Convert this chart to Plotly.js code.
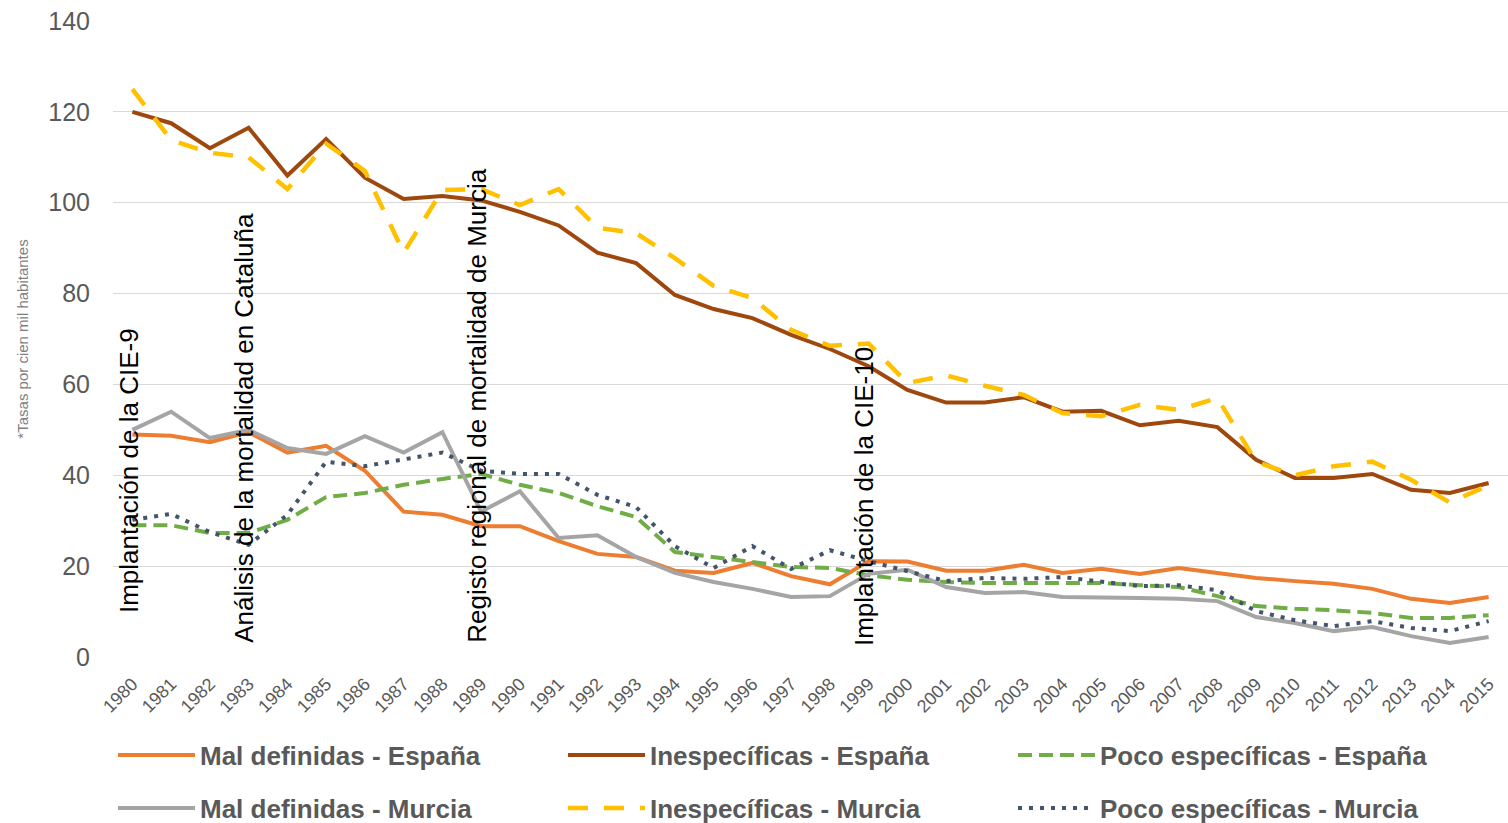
<!DOCTYPE html>
<html>
<head>
<meta charset="utf-8">
<script src="https://cdn.plot.ly/plotly-3.0.1.min.js"></script>
<style>html,body{margin:0;padding:0;background:#fff;}#chart{width:1508px;height:823px;}</style>
</head>
<body>
<div id="chart"></div>
<script>
const years = ["1980","1981","1982","1983","1984","1985","1986","1987","1988","1989","1990","1991","1992","1993","1994","1995","1996","1997","1998","1999","2000","2001","2002","2003","2004","2005","2006","2007","2008","2009","2010","2011","2012","2013","2014","2015"];

const malDefinidasEspana = [49,48.7,47.3,49.5,45,46.5,41,32,31.3,28.8,28.8,25.5,22.7,22,19,18.5,20.7,17.8,16,21.1,21,19,19,20.3,18.5,19.4,18.3,19.6,18.5,17.4,16.7,16.1,15,12.8,11.9,13.2];
const inespecificasEspana = [120,117.5,112,116.5,106,114,105.5,100.8,101.5,100.5,98,95,89,86.7,79.7,76.6,74.6,70.9,67.8,64,58.8,56,56,57.2,54,54.2,51,52,50.6,43.4,39.4,39.4,40.3,36.8,36.1,38.3];
const pocoEspecificasEspana = [29,29,27.3,27.3,30.2,35.2,36.1,37.9,39.2,40.3,37.9,36.1,33.2,30.8,23.1,22,21.1,19.8,19.6,18,17,16.5,16.3,16.3,16.3,16.3,15.8,15.4,13.4,11.2,10.6,10.3,9.7,8.6,8.6,9.2];
const malDefinidasMurcia = [50,54,48.2,50,46,44.7,48.6,45,49.5,32,36.5,26.2,26.8,22,18.5,16.5,15,13.2,13.4,18.3,19.2,15.4,14.1,14.3,13.2,13.2,13,12.8,12.3,8.8,7.5,5.7,6.6,4.6,3.1,4.4];
const inespecificasMurcia = [125,113.8,111,110,103,113,107,89,102.8,103,99.5,103,94.5,93.3,87.8,81.7,79,72,68.5,69,60.3,62,59.7,57.7,53.7,53,55.5,54.4,57,43,40,42,43,39,34,37.8];
const pocoEspecificasMurcia = [30.2,31.5,27.5,24.7,31.3,43,42,43.4,45,41,40.3,40.3,35.7,33,24.4,19.6,24.4,19.4,23.5,21.1,19,16.7,17.4,17.2,17.6,16.5,15.6,15.8,14.7,10.1,8.1,6.8,7.9,6.4,5.7,7.9];

const seriesNames = ["Mal definidas - España","Inespecíficas - España","Poco específicas - España","Mal definidas - Murcia","Inespecíficas - Murcia","Poco específicas - Murcia"];

const eventLabels = ["Implantación de la CIE-9","Análisis de la mortalidad en Cataluña","Registo regional de mortalidad de Murcia","Implantación de la CIE-10"];
const eventYears = ["1980","1983","1989","1999"];
const eventBaseY = [9.2, 2.6, 2.6, 2.0];

const yTicks = [0,20,40,60,80,100,120,140];

const styles = [
  {color:"#ED7D31", width:4, dash:"solid", legend:"legend"},
  {color:"#9E480E", width:4, dash:"solid", legend:"legend"},
  {color:"#70AD47", width:4, dash:"14px,7px", legend:"legend"},
  {color:"#A5A5A5", width:4, dash:"solid", legend:"legend2"},
  {color:"#FFC000", width:4.5, dash:"20px,16px", legend:"legend2"},
  {color:"#44546A", width:4, dash:"4px,7px", legend:"legend2"}
];
const values = [malDefinidasEspana, inespecificasEspana, pocoEspecificasEspana, malDefinidasMurcia, inespecificasMurcia, pocoEspecificasMurcia];

const traces = values.map((v,i)=>({
  type:"scatter", mode:"lines", x:years, y:v, name:seriesNames[i],
  line:{color:styles[i].color, width:styles[i].width, dash:styles[i].dash},
  legend:styles[i].legend, hoverinfo:"skip"
}));

const font = "Liberation Sans, Arial, sans-serif";

const annotations = eventLabels.map((t,i)=>({
  text:t, x:years.indexOf(eventYears[i]), y:eventBaseY[i], xref:"x", yref:"y",
  textangle:-90, showarrow:false, xanchor:"center", yanchor:"bottom", xshift:-4,
  font:{family:font, size:26, color:"#000000"}
}));

const legendCommon = {
  orientation:"h", x:0, xanchor:"left", yref:"container", yanchor:"middle",
  entrywidth:358, entrywidthmode:"pixels", itemwidth:77,
  font:{family:font, size:26, color:"#595959", weight:"bold"},
  bgcolor:"rgba(0,0,0,0)", traceorder:"normal"
};

const layout = {
  width:1508, height:823,
  margin:{l:113, r:0, t:21, b:166},
  paper_bgcolor:"#fff", plot_bgcolor:"#fff",
  showlegend:true,
  xaxis:{type:"category", range:[-0.5,35.5], tickangle:-45, tickfont:{family:font, size:18, color:"#595959"},
    showgrid:false, showline:false, zeroline:false, ticks:"", ticklabelstandoff:12, fixedrange:true},
  yaxis:{range:[0,140], tickvals:yTicks, tickfont:{family:font, size:25, color:"#595959"},
    showgrid:true, gridcolor:"#D9D9D9", gridwidth:1, zeroline:false, showline:false, ticks:"",
    ticklabelstandoff:22,
    title:{text:"*Tasas por cien mil habitantes", font:{family:font, size:15, color:"#7F7F7F"}, standoff:16}},
  legend:Object.assign({}, legendCommon, {y:0.0826}),
  legend2:Object.assign({}, legendCommon, {y:0.0182}),
  annotations:annotations
};

Plotly.newPlot("chart", traces, layout, {displayModeBar:false, staticPlot:true});
</script>
</body>
</html>
